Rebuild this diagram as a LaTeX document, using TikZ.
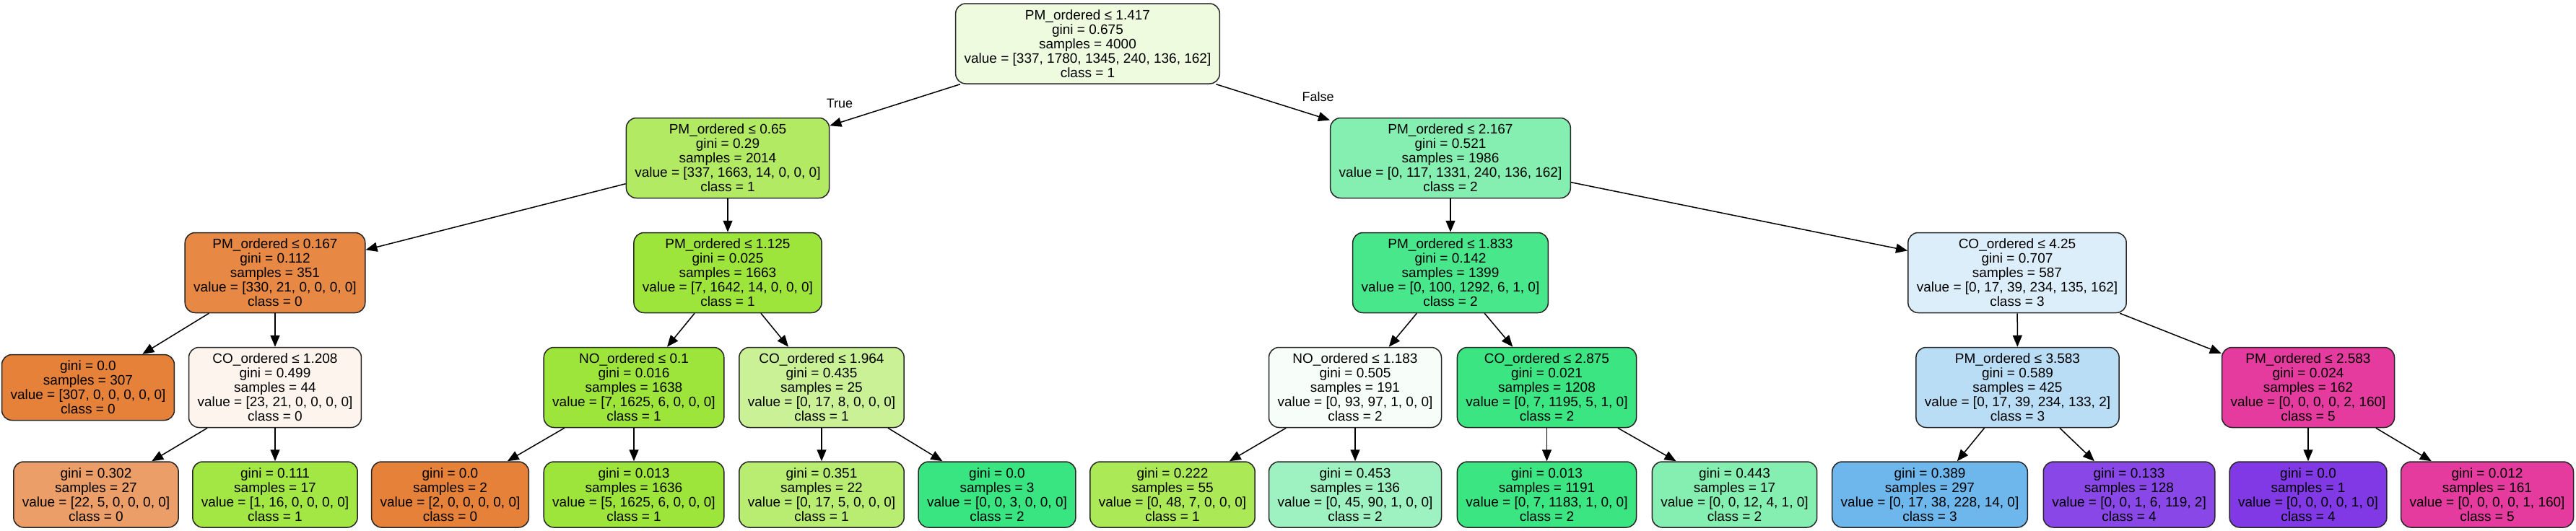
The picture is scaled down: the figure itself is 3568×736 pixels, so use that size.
\documentclass[tikz,border=0pt]{standalone}
\usepackage{fontspec}
\setmainfont{Liberation Sans}
\usetikzlibrary{arrows.meta}
\definecolor{cls0}{HTML}{E58139}
\definecolor{cls1}{HTML}{9DE539}
\definecolor{cls2}{HTML}{39E581}
\definecolor{cls3}{HTML}{399DE5}
\definecolor{cls4}{HTML}{8139E5}
\definecolor{cls5}{HTML}{E5399D}
\begin{document}
\begin{tikzpicture}[x=1pt,y=-1pt,
  box/.style={draw=black!85, line width=1.5pt, rounded corners=14pt, align=center,
    inner xsep=12pt, inner ysep=0pt, font=\fontsize{19pt}{20pt}\selectfont},
  split/.style={box, minimum height=111pt},
  leaf/.style={box, minimum height=91pt},
  edge/.style={line width=1.5pt, draw=black, -{Triangle[length=16pt,width=13pt]}},
  elabel/.style={font=\fontsize{18pt}{20pt}\selectfont, inner sep=0pt}]
\fill[white] (0,0) rectangle (3568,736);
\useasboundingbox (0,0) rectangle (3568,736);
% row 0
\node[split, fill=cls1!16] (n0) at (1506.5,60.5) {PM\_ordered ≤ 1.417\\gini = 0.675\\samples = 4000\\value = [337, 1780, 1345, 240, 136, 162]\\class = 1};
% row 1
\node[split, fill=cls1!79] (n1) at (1008,219) {PM\_ordered ≤ 0.65\\gini = 0.29\\samples = 2014\\value = [337, 1663, 14, 0, 0, 0]\\class = 1};
\node[split, fill=cls2!62] (n2) at (2009,219) {PM\_ordered ≤ 2.167\\gini = 0.521\\samples = 1986\\value = [0, 117, 1331, 240, 136, 162]\\class = 2};
% row 2
\node[split, fill=cls0!94] (n3) at (381,378) {PM\_ordered ≤ 0.167\\gini = 0.112\\samples = 351\\value = [330, 21, 0, 0, 0, 0]\\class = 0};
\node[split, fill=cls1!99] (n4) at (1008,378) {PM\_ordered ≤ 1.125\\gini = 0.025\\samples = 1663\\value = [7, 1642, 14, 0, 0, 0]\\class = 1};
\node[split, fill=cls2!92] (n5) at (2009,378) {PM\_ordered ≤ 1.833\\gini = 0.142\\samples = 1399\\value = [0, 100, 1292, 6, 1, 0]\\class = 2};
\node[split, fill=cls3!17] (n6) at (2794,378) {CO\_ordered ≤ 4.25\\gini = 0.707\\samples = 587\\value = [0, 17, 39, 234, 135, 162]\\class = 3};
% row 3
\node[leaf, fill=cls0] (n7) at (122,537) {gini = 0.0\\samples = 307\\value = [307, 0, 0, 0, 0, 0]\\class = 0};
\node[split, fill=cls0!9] (n8) at (381,537) {CO\_ordered ≤ 1.208\\gini = 0.499\\samples = 44\\value = [23, 21, 0, 0, 0, 0]\\class = 0};
\node[split, fill=cls1!99] (n9) at (878,537) {NO\_ordered ≤ 0.1\\gini = 0.016\\samples = 1638\\value = [7, 1625, 6, 0, 0, 0]\\class = 1};
\node[split, fill=cls1!53] (n10) at (1138,537) {CO\_ordered ≤ 1.964\\gini = 0.435\\samples = 25\\value = [0, 17, 8, 0, 0, 0]\\class = 1};
\node[split, fill=cls2!4] (n11) at (1877,537) {NO\_ordered ≤ 1.183\\gini = 0.505\\samples = 191\\value = [0, 93, 97, 1, 0, 0]\\class = 2};
\node[split, fill=cls2!99] (n12) at (2142.5,537) {CO\_ordered ≤ 2.875\\gini = 0.021\\samples = 1208\\value = [0, 7, 1195, 5, 1, 0]\\class = 2};
\node[split, fill=cls3!35] (n13) at (2794.5,537) {PM\_ordered ≤ 3.583\\gini = 0.589\\samples = 425\\value = [0, 17, 39, 234, 133, 2]\\class = 3};
\node[split, fill=cls5!99] (n14) at (3197,537) {PM\_ordered ≤ 2.583\\gini = 0.024\\samples = 162\\value = [0, 0, 0, 0, 2, 160]\\class = 5};
% row 4
\node[leaf, fill=cls0!77] (n15) at (133,685.5) {gini = 0.302\\samples = 27\\value = [22, 5, 0, 0, 0, 0]\\class = 0};
\node[leaf, fill=cls1!94] (n16) at (381,685.5) {gini = 0.111\\samples = 17\\value = [1, 16, 0, 0, 0, 0]\\class = 1};
\node[leaf, fill=cls0] (n17) at (623.5,685.5) {gini = 0.0\\samples = 2\\value = [2, 0, 0, 0, 0, 0]\\class = 0};
\node[leaf, fill=cls1!99] (n18) at (878,685.5) {gini = 0.013\\samples = 1636\\value = [5, 1625, 6, 0, 0, 0]\\class = 1};
\node[leaf, fill=cls1!71] (n19) at (1138,685.5) {gini = 0.351\\samples = 22\\value = [0, 17, 5, 0, 0, 0]\\class = 1};
\node[leaf, fill=cls2] (n20) at (1381,685.5) {gini = 0.0\\samples = 3\\value = [0, 0, 3, 0, 0, 0]\\class = 2};
\node[leaf, fill=cls1!85] (n21) at (1624,685.5) {gini = 0.222\\samples = 55\\value = [0, 48, 7, 0, 0, 0]\\class = 1};
\node[leaf, fill=cls2!49] (n22) at (1877,685.5) {gini = 0.453\\samples = 136\\value = [0, 45, 90, 1, 0, 0]\\class = 2};
\node[leaf, fill=cls2!99] (n23) at (2142.5,685.5) {gini = 0.013\\samples = 1191\\value = [0, 7, 1183, 1, 0, 0]\\class = 2};
\node[leaf, fill=cls2!62] (n24) at (2402.5,685.5) {gini = 0.443\\samples = 17\\value = [0, 0, 12, 4, 1, 0]\\class = 2};
\node[leaf, fill=cls3!73] (n25) at (2673,685.5) {gini = 0.389\\samples = 297\\value = [0, 17, 38, 228, 14, 0]\\class = 3};
\node[leaf, fill=cls4!93] (n26) at (2949,685.5) {gini = 0.133\\samples = 128\\value = [0, 0, 1, 6, 119, 2]\\class = 4};
\node[leaf, fill=cls4] (n27) at (3197,685.5) {gini = 0.0\\samples = 1\\value = [0, 0, 0, 0, 1, 0]\\class = 4};
\node[leaf, fill=cls5!99] (n28) at (3445,685.5) {gini = 0.012\\samples = 161\\value = [0, 0, 0, 0, 1, 160]\\class = 5};
% edges
\draw[edge] (n0) -- (n1);
\draw[edge] (n0) -- (n2);
\draw[edge] (n1) -- (n3);
\draw[edge] (n1) -- (n4);
\draw[edge] (n2) -- (n5);
\draw[edge] (n2) -- (n6);
\draw[edge] (n3) -- (n7);
\draw[edge] (n3) -- (n8);
\draw[edge] (n4) -- (n9);
\draw[edge] (n4) -- (n10);
\draw[edge] (n5) -- (n11);
\draw[edge] (n5) -- (n12);
\draw[edge] (n6) -- (n13);
\draw[edge] (n6) -- (n14);
\draw[edge] (n8) -- (n15);
\draw[edge] (n8) -- (n16);
\draw[edge] (n9) -- (n17);
\draw[edge] (n9) -- (n18);
\draw[edge] (n10) -- (n19);
\draw[edge] (n10) -- (n20);
\draw[edge] (n11) -- (n21);
\draw[edge] (n11) -- (n22);
\draw[edge] (n12) -- (n23);
\draw[edge] (n12) -- (n24);
\draw[edge] (n13) -- (n25);
\draw[edge] (n13) -- (n26);
\draw[edge] (n14) -- (n27);
\draw[edge] (n14) -- (n28);
% edge labels
\node[elabel] (ltrue) at (1163,143.5) {True};
\node[elabel] (lfalse) at (1825.5,134.5) {False};
\end{tikzpicture}
\end{document}
